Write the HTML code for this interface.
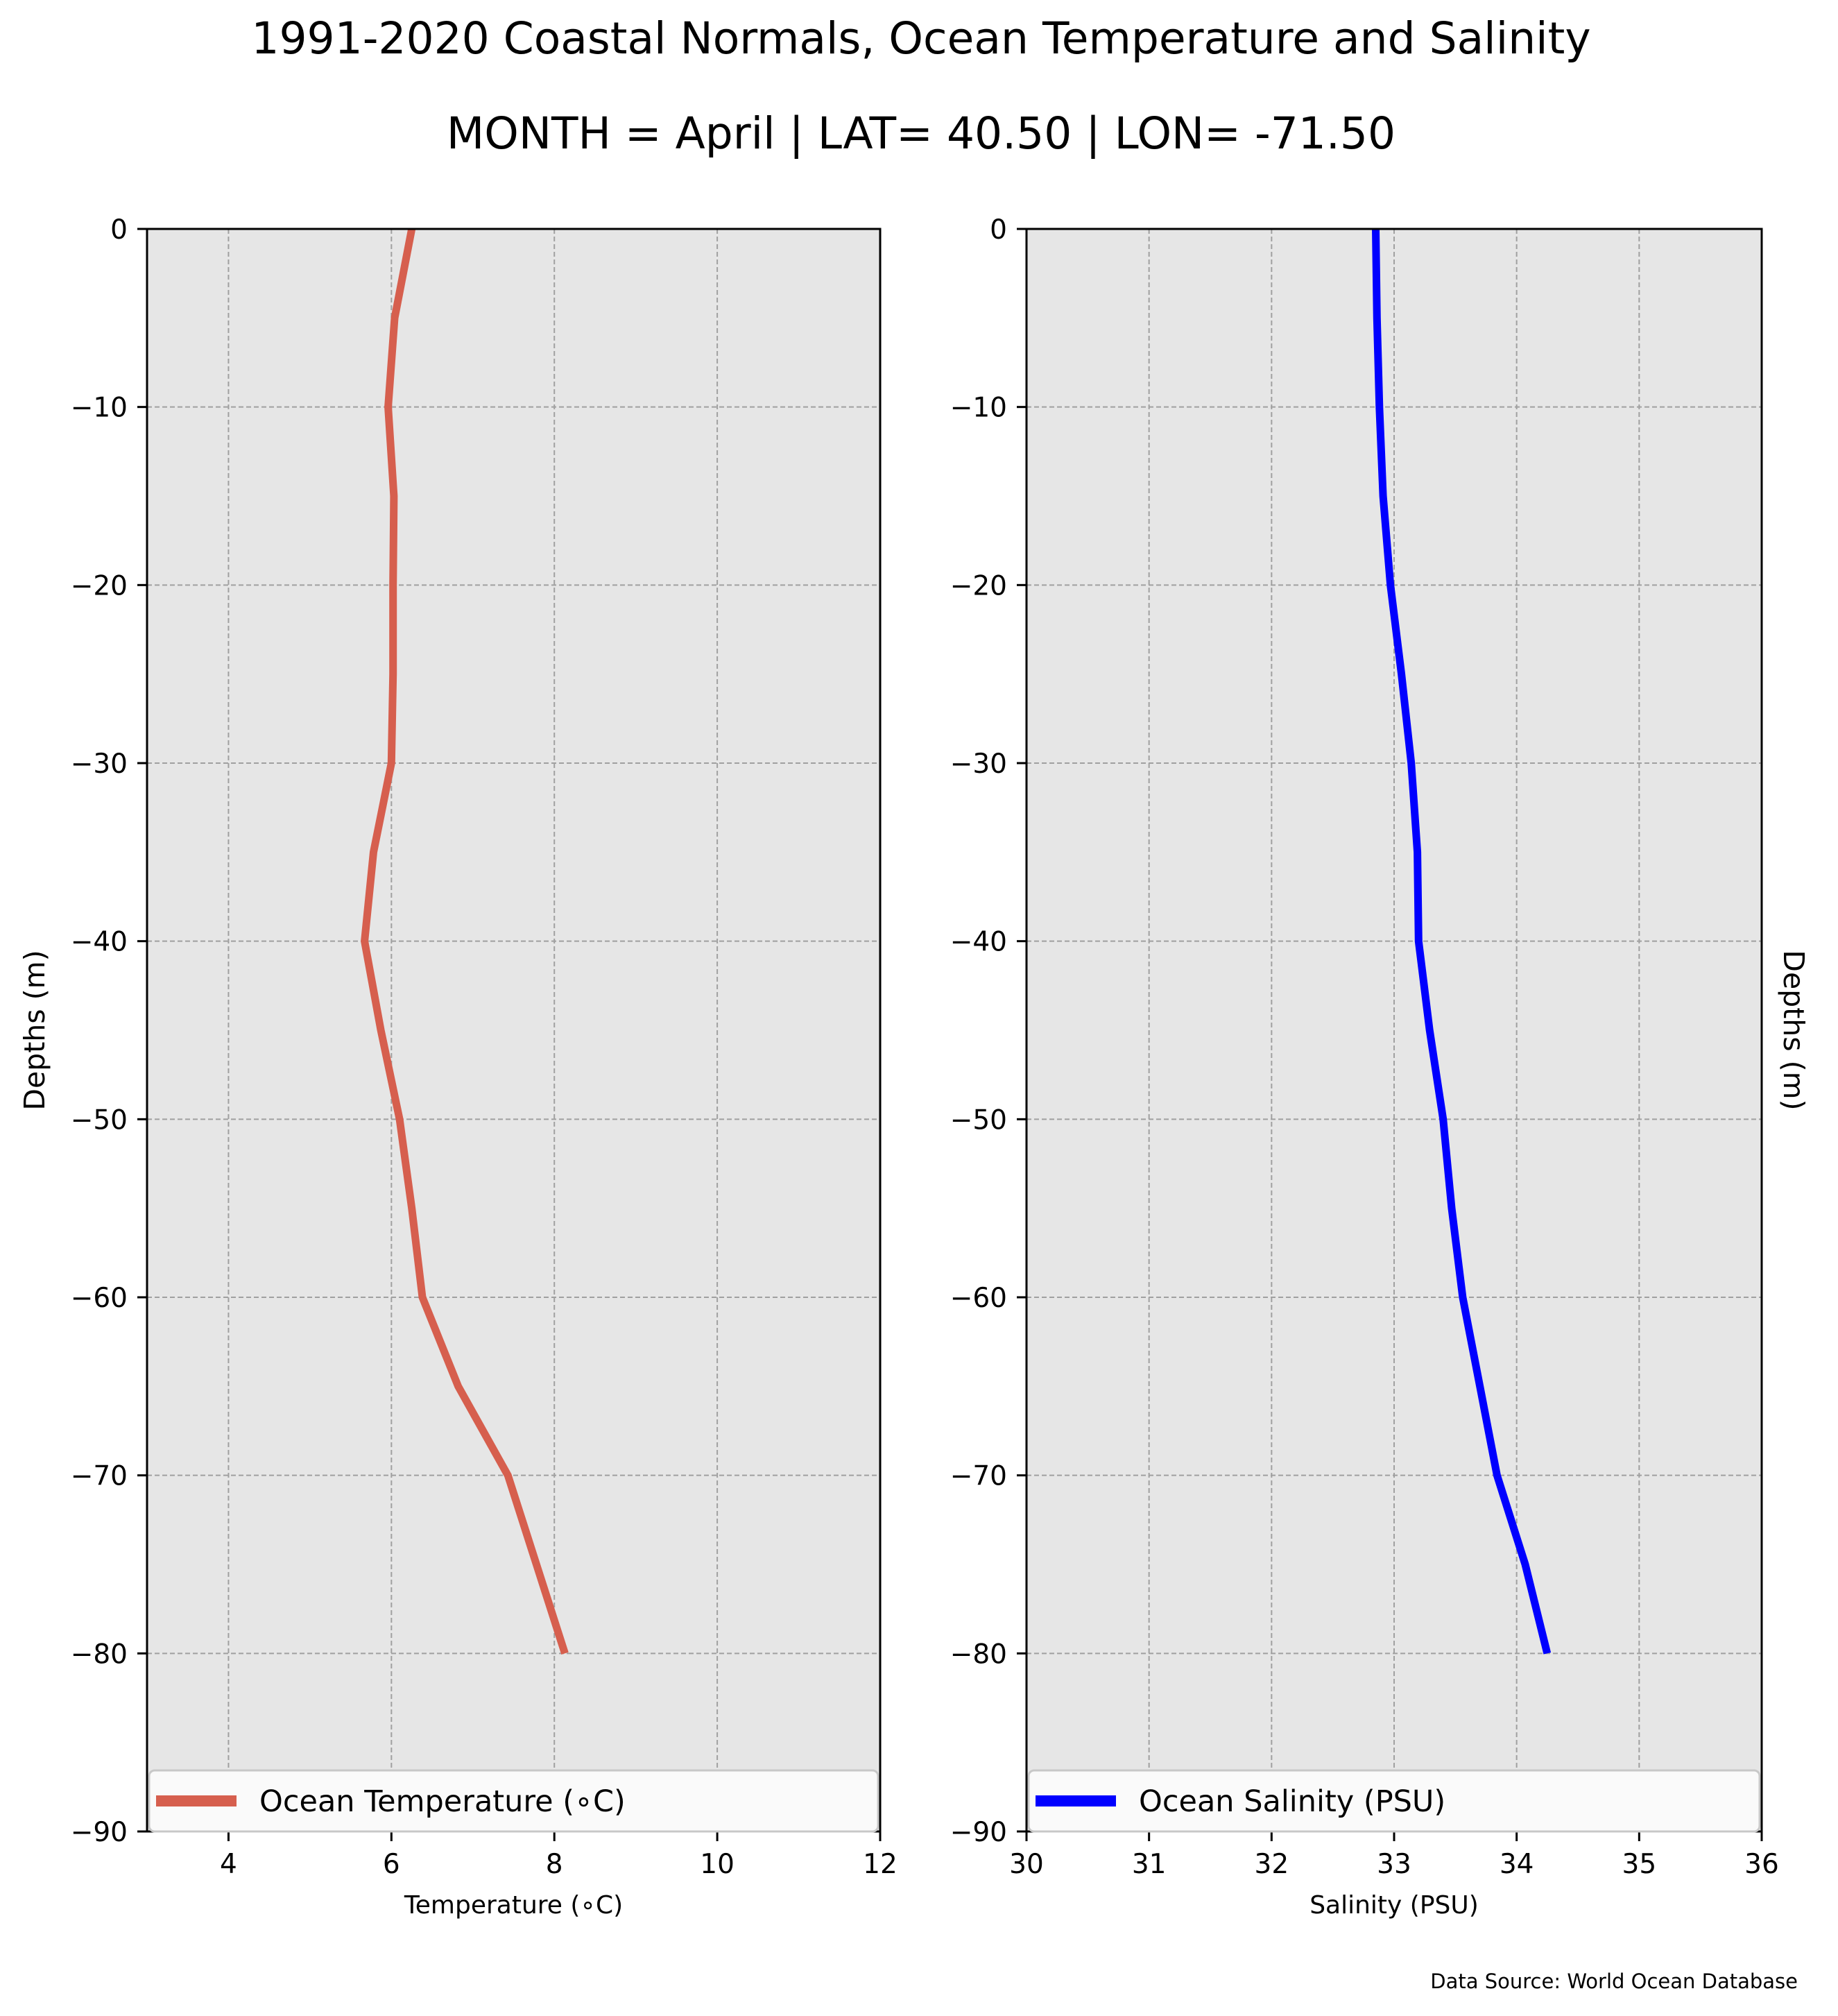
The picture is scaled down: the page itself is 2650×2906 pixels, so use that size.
<!DOCTYPE html>
<html><head><meta charset="utf-8"><style>
body{margin:0;background:#fff}
text{font-family:"DejaVu Sans","Liberation Sans",sans-serif;fill:#000}
</style></head><body>
<svg id="fig" width="2650" height="2901" viewBox="0 0 2650 2901" xmlns="http://www.w3.org/2000/svg">
<text x="1328" y="77" font-size="63" text-anchor="middle">1991-2020 Coastal Normals, Ocean Temperature and Salinity</text>
<text x="1328" y="214" font-size="63" text-anchor="middle">MONTH = April | LAT= 40.50 | LON= -71.50</text>
<text x="2592" y="2866" font-size="29" text-anchor="end">Data Source: World Ocean Database</text>
<g id="p1"></g>
<g id="p2"></g>
</svg>
<script>
const depths=[0,-5,-10,-15,-20,-25,-30,-35,-40,-45,-50,-55,-60,-65,-70,-75,-80];
const temperature=[6.25,6.04,5.96,6.03,6.02,6.02,6.0,5.78,5.67,5.87,6.1,6.25,6.38,6.82,7.43,7.78,8.13];
const salinity=[32.85,32.86,32.88,32.91,32.97,33.06,33.14,33.19,33.2,33.29,33.4,33.47,33.56,33.7,33.84,34.07,34.25];
const depthTicks=[0,-10,-20,-30,-40,-50,-60,-70,-80,-90];
const tempTicks=[4,6,8,10,12];
const salTicks=[30,31,32,33,34,35,36];
const NS="http://www.w3.org/2000/svg";
function mk(parent,tag,attrs){const e=document.createElementNS(NS,tag);for(const k in attrs)e.setAttribute(k,attrs[k]);parent.appendChild(e);return e;}
const yTop=330,yBot=2640;
function yS(d){return yTop+(0-d)/90*(yBot-yTop);}
function panel(g,x0,x1,xmin,xmax,xticks,vals,color,legendText,xlabel,key){
  const xS=v=>x0+(v-xmin)/(xmax-xmin)*(x1-x0);
  let r=mk(g,'rect',{x:x0,y:yTop,width:x1-x0,height:yBot-yTop,fill:'#e6e6e6'});
  
  
  xticks.forEach(t=>{
    let l=mk(g,'line',{x1:xS(t),x2:xS(t),y1:yTop,y2:yBot,stroke:'#a0a0a0','stroke-width':2,'stroke-dasharray':'7,4'});
    
    
    let tk=mk(g,'line',{x1:xS(t),x2:xS(t),y1:yBot,y2:yBot+14,stroke:'#000','stroke-width':3});
    
    
    let tx=mk(g,'text',{x:xS(t),y:2700,'font-size':39,'text-anchor':'middle'});
    tx.textContent=String(t);
    
    
  });
  depthTicks.forEach(t=>{
    let l=mk(g,'line',{x1:x0,x2:x1,y1:yS(t),y2:yS(t),stroke:'#a0a0a0','stroke-width':2,'stroke-dasharray':'7,4'});
    
    
    let tk=mk(g,'line',{x1:x0-14,x2:x0,y1:yS(t),y2:yS(t),stroke:'#000','stroke-width':3});
    
    
    let tx=mk(g,'text',{x:x0-28,y:yS(t)+14,'font-size':39,'text-anchor':'end'});
    tx.textContent=t<0?'\u2212'+(-t):String(t);
    
    
  });
  const pts=vals.map((v,i)=>xS(v).toFixed(1)+','+yS(depths[i]).toFixed(1)).join(' ');
  let pl=mk(g,'polyline',{points:pts,fill:'none',stroke:color,'stroke-width':11,'stroke-linejoin':'miter'});
  
  
  let fr=mk(g,'rect',{x:x0,y:yTop,width:x1-x0,height:yBot-yTop,fill:'none',stroke:'#000','stroke-width':3});
  
  
  const lg=mk(g,'g',{});
  
  
  mk(lg,'rect',{x:x0+3,y:2552,width:x1-x0-6,height:88,rx:8,fill:'#fafafa',stroke:'#c8c8c8','stroke-width':3});
  mk(lg,'line',{x1:x0+13,x2:x0+129,y1:2596,y2:2596,stroke:color,'stroke-width':16});
  let lt=mk(lg,'text',{x:x0+162,y:2611,'font-size':43});
  lt.textContent=legendText;
  
  
  let xl=mk(g,'text',{x:(x0+x1)/2,y:2758,'font-size':36,'text-anchor':'middle'});
  xl.textContent=xlabel;
  
  
}
panel(document.getElementById('p1'),212,1269,3,12,tempTicks,temperature,'#d65f4e','Ocean Temperature (\u2218C)','Temperature (\u2218C)','temperature');
panel(document.getElementById('p2'),1480,2540,30,36,salTicks,salinity,'#0000ff','Ocean Salinity (PSU)','Salinity (PSU)','salinity');
const svgEl=document.getElementById('fig');
let yl=mk(svgEl,'text',{x:0,y:0,'font-size':41,'text-anchor':'middle',transform:'translate(64,1485) rotate(-90)'});
yl.textContent='Depths (m)';


let yr=mk(svgEl,'text',{x:0,y:0,'font-size':41,'text-anchor':'middle',transform:'translate(2572,1485) rotate(90)'});
yr.textContent='Depths (m)';


</script>
</body></html>
